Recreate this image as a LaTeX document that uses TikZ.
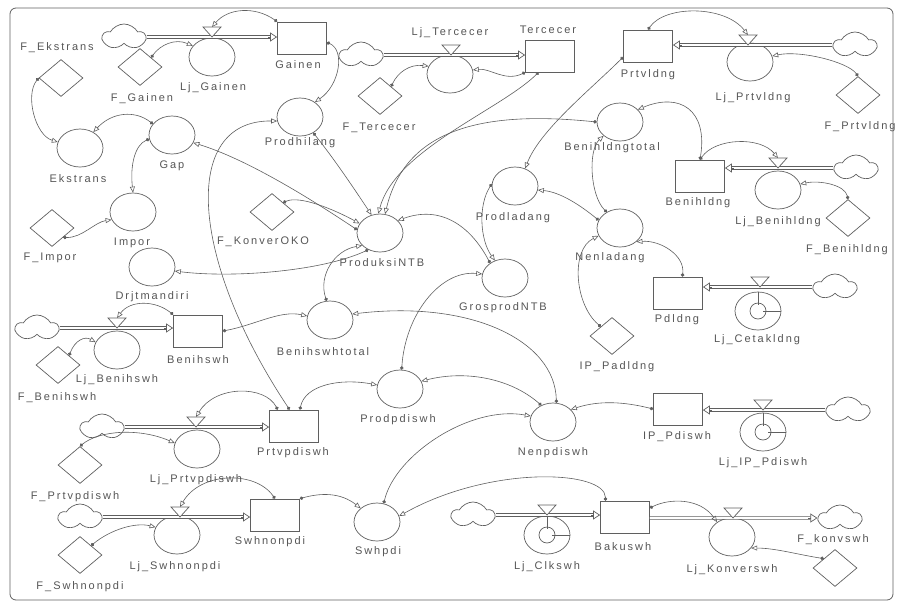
\documentclass[tikz,border=0pt]{standalone}
\usepackage{fontspec}
\newfontfamily\lblfont{Liberation Sans}[LetterSpace=18]
\usetikzlibrary{arrows.meta,shapes.geometric,shapes.symbols,calc}
\definecolor{lc}{RGB}{95,95,95}
\definecolor{tc}{RGB}{85,85,85}
\begin{document}
\begin{tikzpicture}[x=1pt,y=-1pt,
  shp/.style={draw=lc, line width=0.7pt},
  aux/.style={shp, ellipse, minimum width=46pt, minimum height=38pt, inner sep=0pt},
  stock/.style={shp, rectangle, minimum width=49pt, minimum height=32pt, inner sep=0pt},
  const/.style={shp, diamond, minimum width=44pt, minimum height=37pt, inner sep=0pt},
  src/.style={shp, cloud, cloud puffs=5, cloud puff arc=120, aspect=1.7, minimum width=42pt, minimum height=26pt, inner sep=0pt},
  lbl/.style={font=\fontsize{11}{12}\lblfont, text=tc, inner sep=0pt},
  lk/.style={draw=lc, line width=0.6pt, {Circle[length=3.5pt]}-{Triangle[open,length=6pt,width=5pt]}},
  pipe/.style={draw=lc, line width=0.7pt, double=white, double distance=1.8pt, shorten >=7pt},
  ptip/.style={draw=lc, line width=0.7pt, -{Triangle[open,length=7pt,width=9pt]}},
  vlv/.style={shp, fill=white}
]
\useasboundingbox (0,0) rectangle (898,603);
\draw[lc, line width=0.8pt, rounded corners=6pt] (10,8) rectangle (893,600);

% ---------- nodes ----------
\node[src] (cG) at (124,37) {};
\node[stock] (gainen) at (302,38) {};
\node[aux] (ljgainen) at (212,57) {};
\node[const] (fgainen) at (140,67) {};
\node[const] (fekstrans) at (61,78) {};
\node[aux] (ekstrans) at (80,148) {};
\node[aux] (gap) at (172,135) {};
\node[aux] (impor) at (133,212) {};
\node[const] (fimpor) at (52,228) {};
\node[aux] (drjt) at (152,267) {};
\node[aux] (prodhilang) at (300,117) {};
\node[src] (cT) at (361,55) {};
\node[aux] (ljtercecer) at (450,74) {};
\node[const] (ftercecer) at (380,96) {};
\node[stock] (tercecer) at (550,56) {};
\node[stock] (prtvldng) at (648,46) {};
\node[src] (cP) at (855,45) {};
\node[aux] (ljprtvldng) at (750,62) {};
\node[const] (fprtvldng) at (858,95) {};
\node[aux] (benihldngtotal) at (620,122) {};
\node[stock] (benihldng) at (700,176) {};
\node[src] (cB) at (856,168) {};
\node[aux] (ljbenihldng) at (778,190) {};
\node[const] (fbenihldng) at (848,218) {};
\node[aux] (prodladang) at (515,186) {};
\node[aux] (nenladang) at (620,228) {};
\node[const] (fkonveroko) at (272,212) {};
\node[aux] (produksintb) at (380,233) {};
\node[aux] (grosprodntb) at (505,278) {};
\node[stock] (pdldng) at (678,293) {};
\node[src] (cPd) at (835,287) {};
\node[aux] (ljcetak) at (758,311) {};
\node[const] (ippadldng) at (612,336) {};
\node[src] (cBs) at (37,328) {};
\node[stock] (benihswh) at (198,331) {};
\node[aux] (ljbenihswh) at (117,350) {};
\node[const] (fbenihswh) at (58,365) {};
\node[aux] (benihswhtotal) at (330,320) {};
\node[src] (cPv) at (102,427) {};
\node[stock] (prtvpdiswh) at (294,426) {};
\node[aux] (ljprtvpdiswh) at (197,449) {};
\node[const] (fprtvpdiswh) at (80,465) {};
\node[aux] (prodpdiswh) at (400,389) {};
\node[aux] (nenpdiswh) at (553,422) {};
\node[stock] (ippdiswh) at (678,409) {};
\node[src] (cI) at (848,410) {};
\node[aux] (ljip) at (763,432) {};
\node[src] (cSn) at (80,517) {};
\node[stock] (swhnonpdi) at (275,515) {};
\node[aux] (ljswhnonpdi) at (177,535) {};
\node[const] (fswhnonpdi) at (80,555) {};
\node[aux] (swhpdi) at (377,522) {};
\node[src] (cBk) at (473,515) {};
\node[aux] (ljclkswh) at (547,535) {};
\node[stock] (bakuswh) at (625,517) {};
\node[aux] (ljkonverswh) at (732,537) {};
\node[src] (cK) at (840,518) {};
\node[const] (fkonvswh) at (835,568) {};

% clock faces
\foreach \c in {ljcetak,ljip,ljclkswh}{
  \draw[shp] (\c) circle[radius=8pt];
  \draw[shp] (\c) -- ++(0,-6) (\c) -- ++(5,0);
}

% ---------- flows ----------
\draw[pipe] (cG.east) -- (cG.east -| gainen.west);
\draw[ptip] ($(cG.east -| gainen.west)+(-9,0)$) -- (cG.east -| gainen.west);
\draw[pipe] (cT.east) -- (cT.east -| tercecer.west);
\draw[ptip] ($(cT.east -| tercecer.west)+(-9,0)$) -- (cT.east -| tercecer.west);
\draw[pipe] (cP.west) -- (cP.west -| prtvldng.east);
\draw[ptip] ($(cP.west -| prtvldng.east)+(9,0)$) -- (cP.west -| prtvldng.east);
\draw[pipe] (cB.west) -- (cB.west -| benihldng.east);
\draw[ptip] ($(cB.west -| benihldng.east)+(9,0)$) -- (cB.west -| benihldng.east);
\draw[pipe] (cPd.west) -- (cPd.west -| pdldng.east);
\draw[ptip] ($(cPd.west -| pdldng.east)+(9,0)$) -- (cPd.west -| pdldng.east);
\draw[pipe] (cI.west) -- (cI.west -| ippdiswh.east);
\draw[ptip] ($(cI.west -| ippdiswh.east)+(9,0)$) -- (cI.west -| ippdiswh.east);
\draw[pipe] (cBs.east) -- (cBs.east -| benihswh.west);
\draw[ptip] ($(cBs.east -| benihswh.west)+(-9,0)$) -- (cBs.east -| benihswh.west);
\draw[pipe] (cPv.east) -- (cPv.east -| prtvpdiswh.west);
\draw[ptip] ($(cPv.east -| prtvpdiswh.west)+(-9,0)$) -- (cPv.east -| prtvpdiswh.west);
\draw[pipe] (cSn.east) -- (cSn.east -| swhnonpdi.west);
\draw[ptip] ($(cSn.east -| swhnonpdi.west)+(-9,0)$) -- (cSn.east -| swhnonpdi.west);
\draw[pipe] (cBk.east) -- (cBk.east -| bakuswh.west);
\draw[ptip] ($(cBk.east -| bakuswh.west)+(-9,0)$) -- (cBk.east -| bakuswh.west);
\draw[pipe] (bakuswh.east |- cK) -- (cK.west);
\draw[ptip] ($(cK.west)+(-9,0)$) -- (cK.west);

% valves
\coordinate (vG) at (212,37);  \coordinate (vGt) at (212,27);
\coordinate (vT) at (451,55);  \coordinate (vTt) at (451,45);
\coordinate (vP) at (748,45);  \coordinate (vPt) at (748,35);
\coordinate (vB) at (778,168); \coordinate (vBt) at (778,158);
\coordinate (vPd) at (760,287);
\coordinate (vI) at (763,410);
\coordinate (vBs) at (117,328); \coordinate (vBst) at (117,318);
\coordinate (vPv) at (196,427); \coordinate (vPvt) at (196,417);
\coordinate (vSn) at (180,517); \coordinate (vSnt) at (180,507);
\coordinate (vBk) at (547,515);
\coordinate (vK) at (733,518);
\foreach \v in {vG,vT,vP,vB,vPd,vI,vBs,vPv,vSn,vBk,vK}{
  \draw[vlv] (\v) -- ++(-9,-10) -- ++(18,0) -- cycle;
}

% ---------- links ----------
\draw[lk] (gainen.north west) .. controls (255,6) and (228,8) .. (vGt);
\draw[lk] (fgainen.north east) .. controls (160,45) and (175,38) .. (ljgainen.150);
\draw[lk] (gainen.-10) .. controls (345,50) and (340,85) .. (prodhilang.45);
\draw[lk] (prodhilang.-50) .. controls (335,160) and (355,190) .. (produksintb.115);
\draw[lk] (prtvpdiswh.105) .. controls (190,260) and (180,120) .. (prodhilang.190);
\draw[lk] (ftercecer.north east) .. controls (398,72) and (410,64) .. (ljtercecer.160);
\draw[lk] (tercecer.south west) .. controls (505,82) and (490,68) .. (ljtercecer.10);
\draw[lk] (tercecer.235) .. controls (500,110) and (395,150) .. (produksintb.95);
\draw[lk] (benihldngtotal.180) .. controls (480,110) and (405,130) .. (produksintb.75);
\draw[lk] (fprtvldng.north) .. controls (848,62) and (800,50) .. (ljprtvldng.15);
\draw[lk] (prtvldng.north) .. controls (665,5) and (725,5) .. (vPt);
\draw[lk] (prtvldng.204) .. controls (590,90) and (540,130) .. (prodladang.60);
\draw[lk] (benihldng.north) .. controls (708,110) and (680,92) .. (benihldngtotal.35);
\draw[lk] (benihldng.north) .. controls (715,138) and (760,136) .. (vBt);
\draw[lk] (fbenihldng.north) .. controls (845,185) and (820,180) .. (ljbenihldng.15);
\draw[lk] (nenladang.130) .. controls (590,195) and (588,150) .. (benihldngtotal.220);
\draw[lk] (nenladang.160) .. controls (580,205) and (560,192) .. (prodladang.-10);
\draw[lk] (pdldng.75) .. controls (685,255) and (660,240) .. (nenladang.-40);
\draw[lk] (ippadldng.north west) .. controls (575,305) and (570,250) .. (nenladang.200);
\draw[lk] (ippdiswh.west) .. controls (625,402) and (600,400) .. (nenpdiswh.35);
\draw[lk] (nenpdiswh.80) .. controls (555,340) and (470,300) .. (benihswhtotal.15);
\draw[lk] (nenpdiswh.125) .. controls (510,378) and (465,370) .. (prodpdiswh.20);
\draw[lk] (swhpdi.70) .. controls (395,455) and (470,405) .. (nenpdiswh.165);
\draw[lk] (prodpdiswh.85) .. controls (405,315) and (440,270) .. (grosprodntb.170);
\draw[lk] (prtvpdiswh.70) .. controls (305,385) and (340,378) .. (prodpdiswh.170);
\draw[lk] (prtvpdiswh.135) .. controls (265,385) and (215,385) .. (vPvt);
\draw[lk] (fprtvpdiswh.north) .. controls (100,430) and (140,428) .. (ljprtvpdiswh.165);
\draw[lk] (benihswh.north west) .. controls (155,300) and (130,300) .. (vBst);
\draw[lk] (fbenihswh.north east) .. controls (75,340) and (85,336) .. (ljbenihswh.160);
\draw[lk] (benihswh.east) .. controls (255,325) and (280,310) .. (benihswhtotal.170);
\draw[lk] (benihswhtotal.100) .. controls (318,275) and (335,250) .. (produksintb.215);
\draw[lk] (produksintb.235) .. controls (320,272) and (230,278) .. (drjt.-10);
\draw[lk] (produksintb.172) .. controls (320,205) and (250,160) .. (gap.-20);
\draw[lk] (fkonveroko.north east) .. controls (300,195) and (335,210) .. (produksintb.155);
\draw[lk] (grosprodntb.135) .. controls (470,225) and (440,205) .. (produksintb.35);
\draw[lk] (prodladang.175) .. controls (478,205) and (480,240) .. (grosprodntb.120);
\draw[lk] (gap.150) .. controls (135,110) and (112,112) .. (ekstrans.50);
\draw[lk] (gap.190) .. controls (135,145) and (130,165) .. (impor.north);
\draw[lk] (fekstrans.west) .. controls (25,95) and (35,135) .. (ekstrans.165);
\draw[lk] (fimpor.south east) .. controls (82,238) and (95,222) .. (impor.200);
\draw[lk] (fswhnonpdi.north east) .. controls (110,530) and (135,522) .. (ljswhnonpdi.160);
\draw[lk] (swhnonpdi.north) .. controls (255,470) and (200,472) .. (vSnt);
\draw[lk] (swhnonpdi.north east) .. controls (320,493) and (340,492) .. (swhpdi.140);
\draw[lk] (bakuswh.140) .. controls (605,470) and (490,465) .. (swhpdi.15);
\draw[lk] (bakuswh.20) .. controls (670,498) and (700,498) .. (ljkonverswh.135);
\draw[lk] (fkonvswh.north west) .. controls (800,555) and (775,548) .. (ljkonverswh.-30);

% ---------- labels ----------
\node[lbl] (t1) at (57,48) {F\_Ekstrans};
\node[lbl] (t2) at (142,99) {F\_Gainen};
\node[lbl] (t3) at (213,88) {Lj\_Gainen};
\node[lbl] (t4) at (298,65) {Gainen};
\node[lbl] (t5) at (450,33) {Lj\_Tercecer};
\node[lbl] (t6) at (548,30) {Tercecer};
\node[lbl] (t7) at (379,128) {F\_Tercecer};
\node[lbl] (t8) at (300,143) {Prodhilang};
\node[lbl] (t9) at (648,75) {Prtvldng};
\node[lbl] (t10) at (753,98) {Lj\_Prtvldng};
\node[lbl] (t11) at (860,127) {F\_Prtvldng};
\node[lbl] (t12) at (612,148) {Benihldngtotal};
\node[lbl] (t13) at (78,179) {Ekstrans};
\node[lbl] (t14) at (172,166) {Gap};
\node[lbl] (t15) at (132,243) {Impor};
\node[lbl] (t16) at (50,258) {F\_Impor};
\node[lbl] (t17) at (152,297) {Drjtmandiri};
\node[lbl] (t18) at (263,242) {F\_KonverOKO};
\node[lbl] (t19) at (382,263) {ProduksiNTB};
\node[lbl] (t20) at (513,218) {Prodladang};
\node[lbl] (t21) at (503,308) {GrosprodNTB};
\node[lbl] (t22) at (698,203) {Benihldng};
\node[lbl] (t23) at (778,222) {Lj\_Benihldng};
\node[lbl] (t24) at (847,250) {F\_Benihldng};
\node[lbl] (t25) at (610,258) {Nenladang};
\node[lbl] (t26) at (677,320) {Pdldng};
\node[lbl] (t27) at (757,340) {Lj\_Cetakldng};
\node[lbl] (t28) at (617,367) {IP\_Padldng};
\node[lbl] (t29) at (198,360) {Benihswh};
\node[lbl] (t30) at (117,380) {Lj\_Benihswh};
\node[lbl] (t31) at (57,398) {F\_Benihswh};
\node[lbl] (t32) at (323,352) {Benihswhtotal};
\node[lbl] (t33) at (398,420) {Prodpdiswh};
\node[lbl] (t34) at (553,453) {Nenpdiswh};
\node[lbl] (t35) at (677,437) {IP\_Pdiswh};
\node[lbl] (t36) at (763,463) {Lj\_IP\_Pdiswh};
\node[lbl] (t37) at (293,453) {Prtvpdiswh};
\node[lbl] (t38) at (196,480) {Lj\_Prtvpdiswh};
\node[lbl] (t39) at (75,497) {F\_Prtvpdiswh};
\node[lbl] (t40) at (270,542) {Swhnonpdi};
\node[lbl] (t41) at (175,567) {Lj\_Swhnonpdi};
\node[lbl] (t42) at (80,587) {F\_Swhnonpdi};
\node[lbl] (t43) at (378,552) {Swhpdi};
\node[lbl] (t44) at (547,567) {Lj\_Clkswh};
\node[lbl] (t45) at (623,547) {Bakuswh};
\node[lbl] (t46) at (833,540) {F\_konvswh};
\node[lbl] (t47) at (732,570) {Lj\_Konverswh};
\end{tikzpicture}
\end{document}
